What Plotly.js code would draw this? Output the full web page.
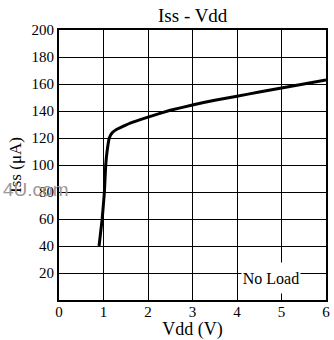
<!DOCTYPE html>
<html>
<head>
<meta charset="utf-8">
<script src="https://cdn.plot.ly/plotly-3.0.1.min.js"></script>
<style>html,body{margin:0;padding:0;background:#fff;}#chart{width:334px;height:340px;}</style>
</head>
<body>
<div id="chart"></div>
<script>
const vdd = [0.9, 0.97, 1.02, 1.05, 1.08, 1.13, 1.2, 1.3, 1.4, 1.6, 2.0, 2.5, 3.0, 3.5, 4.0, 4.5, 5.0, 5.5, 6.0];
const iss = [40, 60, 80, 100, 110, 120, 124, 126.5, 128, 131, 135.5, 140.5, 144.5, 148, 151, 154, 157, 160, 163];
const yTicks = [20, 40, 60, 80, 100, 120, 140, 160, 180, 200];
const xTicks = [0, 1, 2, 3, 4, 5, 6];

const serif = "Liberation Serif, Times New Roman, serif";
const trace = {x: vdd, y: iss, mode: 'lines', line: {color: '#000', width: 3, shape: 'spline', smoothing: 0.3}, hoverinfo: 'skip'};
const layout = {
  width: 334, height: 340,
  margin: {l: 59, r: 8, t: 30, b: 40},
  paper_bgcolor: '#fff', plot_bgcolor: '#fff',
  showlegend: false,
  title: {text: 'Iss - Vdd', font: {family: serif, size: 19, color: '#000'}, x: 0.577, xanchor: 'center', y: 0.955, yanchor: 'middle'},
  xaxis: {range: [0, 6], tickvals: xTicks, ticktext: xTicks.map(String), showgrid: true, gridcolor: '#000', gridwidth: 1,
    showline: true, mirror: true, linecolor: '#000', linewidth: 2, zeroline: false, ticks: '',
    ticklabelstandoff: -3,
    tickfont: {family: serif, size: 15, color: '#000'},
    title: {text: 'Vdd (V)', font: {family: serif, size: 18, color: '#000'}, standoff: 5}},
  yaxis: {range: [0, 200], tickvals: yTicks, ticktext: yTicks.map(String), showgrid: true, gridcolor: '#000', gridwidth: 1,
    showline: true, mirror: true, linecolor: '#000', linewidth: 2, zeroline: false, ticks: '',
    tickfont: {family: serif, size: 15, color: '#000'},
    title: {text: 'Iss (μA)', font: {family: serif, size: 17, color: '#000'}, standoff: 6}},
  annotations: [
    {text: 'No Load', xref: 'x', yref: 'y', x: 4.76, y: 16.2, showarrow: false, bgcolor: '#fff',
     width: 58, height: 30, borderpad: 0,
     font: {family: serif, size: 16, color: '#000'}},
    {text: '4U.com', xref: 'paper', yref: 'paper', x: -0.217, y: 0.411, xanchor: 'left', yanchor: 'middle', showarrow: false,
     font: {family: 'Liberation Sans, Arial, sans-serif', size: 19, color: '#999'}}
  ]
};
Plotly.newPlot('chart', [trace], layout, {staticPlot: true, displayModeBar: false});
</script>
</body>
</html>
